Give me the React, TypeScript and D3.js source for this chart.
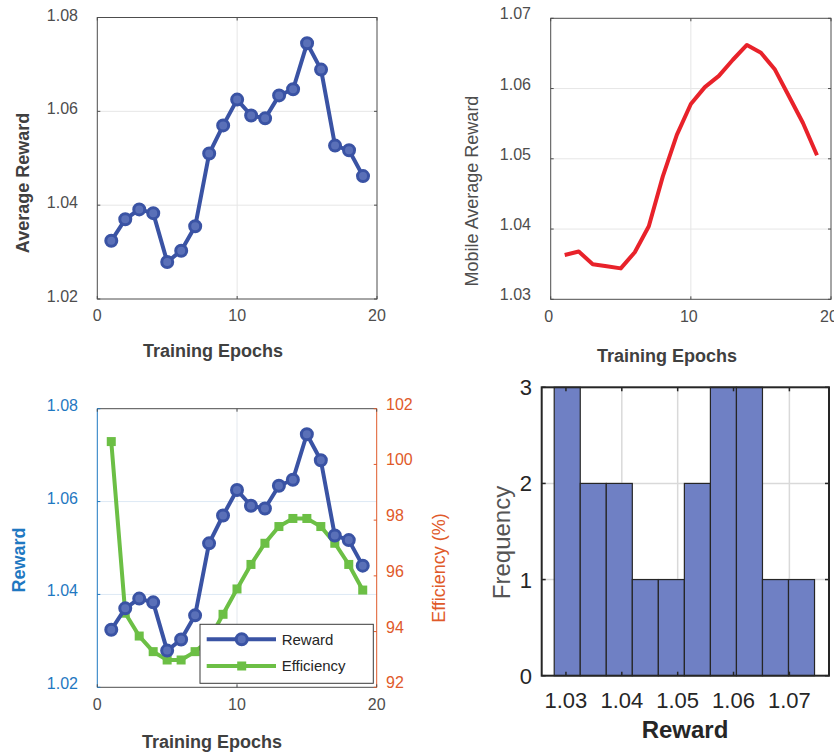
import React from 'react';
import * as d3 from 'd3';

// data
const epochs = [1, 2, 3, 4, 5, 6, 7, 8, 9, 10, 11, 12, 13, 14, 15, 16, 17, 18, 19];
const reward = [1.0324, 1.0370, 1.0391, 1.0383, 1.0279, 1.0303, 1.0355, 1.0510, 1.0570, 1.0625,
    1.0591, 1.0585, 1.0634, 1.0647, 1.0745, 1.0689, 1.0527, 1.0517, 1.0462];
const mobileAvg = [1.0363, 1.0368, 1.0350, 1.0347, 1.0344, 1.0367, 1.0404, 1.0475, 1.0534, 1.0578,
    1.0602, 1.0618, 1.0641, 1.0662, 1.0651, 1.0627, 1.0589, 1.0551, 1.0505];
const efficiency = [100.82, 94.66, 93.84, 93.28, 92.98, 92.98, 93.28, 93.7, 94.62, 95.53,
    96.41, 97.17, 97.77, 98.06, 98.06, 97.77, 97.17, 96.41, 95.49];

const epochTicks = [0, 10, 20];
const rewardTicks = [1.02, 1.04, 1.06, 1.08];
const mobileTicks = [1.03, 1.04, 1.05, 1.06, 1.07];
const effTicks = [92, 94, 96, 98, 100, 102];
const histXTicks = [1.03, 1.04, 1.05, 1.06, 1.07];
const histYTicks = [0, 1, 2, 3];
const histBinCount = 10;

const FONT = '"Liberation Sans", Arial, sans-serif';
const BLUE = '#3a53a4';
const GREEN = '#6cbf45';
const RED = '#e8222a';
const LEFT_AX = '#1f78c1';
const RIGHT_AX = '#df5a2a';
const GRID = '#e6e6e6';
const TXT = '#4d4d4d';

const fmt2 = d3.format('.2f');

function TopLeft() {
    const x = d3.scaleLinear().domain([0, 20]).range([97.3, 377]);
    const y = d3.scaleLinear().domain([1.02, 1.08]).range([299, 17.5]);
    const line = d3.line<number>().x((d, i) => x(epochs[i])).y(d => y(d));
    return (
        <g>
            {epochTicks.slice(1, -1).map(t => <line key={t} x1={x(t)} x2={x(t)} y1={y(1.02)} y2={y(1.08)} stroke={GRID} />)}
            {rewardTicks.slice(1, -1).map(t => <line key={t} x1={x(0)} x2={x(20)} y1={y(t)} y2={y(t)} stroke={GRID} />)}
            {epochTicks.map(t => <g key={t}>
                <line x1={x(t)} x2={x(t)} y1={y(1.02)} y2={y(1.02) - 3} stroke="#4d4d4d" />
                <line x1={x(t)} x2={x(t)} y1={y(1.08)} y2={y(1.08) + 3} stroke="#4d4d4d" />
                <text x={x(t)} y={y(1.02) + 22} textAnchor="middle" fontSize={16} fill={TXT}>{t}</text>
            </g>)}
            {rewardTicks.map(t => <g key={t}>
                <line x1={x(0)} x2={x(0) + 3} y1={y(t)} y2={y(t)} stroke="#4d4d4d" />
                <line x1={x(20)} x2={x(20) - 3} y1={y(t)} y2={y(t)} stroke="#4d4d4d" />
                <text x={78} y={y(t) + 3} textAnchor="end" fontSize={16} fill={TXT}>{fmt2(t)}</text>
            </g>)}
            <rect x={x(0)} y={y(1.08)} width={x(20) - x(0)} height={y(1.02) - y(1.08)} fill="none" stroke="#4d4d4d" />
            <path d={line(reward) || ''} fill="none" stroke={BLUE} strokeWidth={4} strokeLinejoin="round" />
            {reward.map((d, i) => <circle key={i} cx={x(epochs[i])} cy={y(d)} r={5.5} fill="#5a70b8" stroke={BLUE} strokeWidth={3} />)}
            <text x={213} y={356.5} textAnchor="middle" fontSize={18} fontWeight="bold" fill="#404040">Training Epochs</text>
            <text transform="translate(29,183) rotate(-90)" textAnchor="middle" fontSize={18} fontWeight="bold" fill="#404040">Average Reward</text>
        </g>
    );
}

function TopRight() {
    const x = d3.scaleLinear().domain([0, 20]).range([550.7, 831]);
    const y = d3.scaleLinear().domain([1.03, 1.07]).range([299.3, 18.3]);
    const line = d3.line<number>().x((d, i) => x(epochs[i])).y(d => y(d));
    return (
        <g>
            {epochTicks.slice(1, -1).map(t => <line key={t} x1={x(t)} x2={x(t)} y1={y(1.03)} y2={y(1.07)} stroke={GRID} />)}
            {mobileTicks.slice(1, -1).map(t => <line key={t} x1={x(0)} x2={x(20)} y1={y(t)} y2={y(t)} stroke={GRID} />)}
            {epochTicks.map(t => <g key={t}>
                <line x1={x(t)} x2={x(t)} y1={y(1.03)} y2={y(1.03) - 3} stroke="#4d4d4d" />
                <line x1={x(t)} x2={x(t)} y1={y(1.07)} y2={y(1.07) + 3} stroke="#4d4d4d" />
                <text x={x(t) - 2} y={y(1.03) + 23} textAnchor="middle" fontSize={16} fill={TXT}>{t}</text>
            </g>)}
            {mobileTicks.map(t => <g key={t}>
                <line x1={x(0)} x2={x(0) + 3} y1={y(t)} y2={y(t)} stroke="#4d4d4d" />
                <line x1={x(20)} x2={x(20) - 3} y1={y(t)} y2={y(t)} stroke="#4d4d4d" />
                <text x={531} y={y(t) + 1} textAnchor="end" fontSize={16} fill={TXT}>{fmt2(t)}</text>
            </g>)}
            <rect x={x(0)} y={y(1.07)} width={x(20) - x(0)} height={y(1.03) - y(1.07)} fill="none" stroke="#4d4d4d" />
            <path d={line(mobileAvg) || ''} fill="none" stroke={RED} strokeWidth={4} strokeLinejoin="round" />
            <text x={667} y={361.5} textAnchor="middle" fontSize={18} fontWeight="bold" fill="#404040">Training Epochs</text>
            <text transform="translate(478,191) rotate(-90)" textAnchor="middle" fontSize={18} fill={TXT}>Mobile Average Reward</text>
        </g>
    );
}

function BottomLeft() {
    const x = d3.scaleLinear().domain([0, 20]).range([97.3, 376.7]);
    const y = d3.scaleLinear().domain([1.02, 1.08]).range([687.3, 408.7]);
    const y2 = d3.scaleLinear().domain([92, 102]).range([687.3, 408.7]);
    const rLine = d3.line<number>().x((d, i) => x(epochs[i])).y(d => y(d));
    const eLine = d3.line<number>().x((d, i) => x(epochs[i])).y(d => y2(d));
    return (
        <g>
            {epochTicks.slice(1, -1).map(t => <line key={t} x1={x(t)} x2={x(t)} y1={y(1.02)} y2={y(1.08)} stroke="#e3e8ee" />)}
            {rewardTicks.slice(1, -1).map(t => <line key={t} x1={x(0)} x2={x(20)} y1={y(t)} y2={y(t)} stroke="#dde9f5" />)}
            <line x1={x(0)} x2={x(20)} y1={y(1.08)} y2={y(1.08)} stroke="#4d4d4d" />
            <line x1={x(0)} x2={x(20)} y1={y(1.02)} y2={y(1.02)} stroke="#4d4d4d" />
            <line x1={x(0)} x2={x(0)} y1={y(1.02)} y2={y(1.08)} stroke={LEFT_AX} />
            <line x1={x(20)} x2={x(20)} y1={y(1.02)} y2={y(1.08)} stroke={RIGHT_AX} />
            {epochTicks.map(t => <g key={t}>
                <line x1={x(t)} x2={x(t)} y1={y(1.02)} y2={y(1.02) - 3} stroke="#4d4d4d" />
                <line x1={x(t)} x2={x(t)} y1={y(1.08)} y2={y(1.08) + 3} stroke="#4d4d4d" />
                <text x={x(t)} y={y(1.02) + 23} textAnchor="middle" fontSize={16} fill={TXT}>{t}</text>
            </g>)}
            {rewardTicks.map(t => <g key={t}>
                <line x1={x(0)} x2={x(0) + 3} y1={y(t)} y2={y(t)} stroke={LEFT_AX} />
                <text x={78} y={y(t) + 2} textAnchor="end" fontSize={16} fill={LEFT_AX}>{fmt2(t)}</text>
            </g>)}
            {effTicks.map(t => <g key={t}>
                <line x1={x(20)} x2={x(20) - 3} y1={y2(t)} y2={y2(t)} stroke={RIGHT_AX} />
                <text x={386} y={y2(t) + 1} textAnchor="start" fontSize={16} fill={RIGHT_AX}>{t}</text>
            </g>)}
            <path d={eLine(efficiency) || ''} fill="none" stroke={GREEN} strokeWidth={4} />
            {efficiency.map((d, i) => <rect key={i} x={x(epochs[i]) - 4.5} y={y2(d) - 4.5} width={9} height={9} fill={GREEN} />)}
            <path d={rLine(reward) || ''} fill="none" stroke={BLUE} strokeWidth={4} strokeLinejoin="round" />
            {reward.map((d, i) => <circle key={i} cx={x(epochs[i])} cy={y(d)} r={5.5} fill="#5a70b8" stroke={BLUE} strokeWidth={3} />)}
            <g>
                <rect x={200} y={624.3} width={173.3} height={59} fill="#fff" stroke="#3a3a3a" />
                <line x1={206.7} x2={276} y1={639.3} y2={639.3} stroke={BLUE} strokeWidth={4} />
                <circle cx={241.7} cy={639.3} r={5.5} fill="#5a70b8" stroke={BLUE} strokeWidth={3} />
                <text x={281.7} y={644.5} fontSize={15} fill="#262626">Reward</text>
                <line x1={206.7} x2={276} y1={666} y2={666} stroke={GREEN} strokeWidth={4} />
                <rect x={237.2} y={661.5} width={9} height={9} fill={GREEN} />
                <text x={281.7} y={671} fontSize={15} fill="#262626">Efficiency</text>
            </g>
            <text x={212} y={748} textAnchor="middle" fontSize={18} fontWeight="bold" fill="#404040">Training Epochs</text>
            <text transform="translate(24.5,560) rotate(-90)" textAnchor="middle" fontSize={18} fontWeight="bold" fill={LEFT_AX}>Reward</text>
            <text transform="translate(445,568) rotate(-90)" textAnchor="middle" fontSize={18} fill={RIGHT_AX}>Efficiency (%)</text>
        </g>
    );
}

function Histogram() {
    const x = d3.scaleLinear().domain([1.02566, 1.07709]).range([541.7, 829]);
    const y = d3.scaleLinear().domain([0, 3]).range([675.7, 387.3]);
    const [lo, hi] = d3.extent(reward) as [number, number];
    const w = (hi - lo) / histBinCount;
    const thresholds = d3.range(1, histBinCount).map(i => lo + i * w);
    const bins = d3.bin().domain([lo, hi]).thresholds(thresholds)(reward);
    return (
        <g>
            {histXTicks.map(t => <line key={t} x1={x(t)} x2={x(t)} y1={y(0)} y2={y(3)} stroke="#d9d9d9" strokeWidth={1.5} />)}
            {histYTicks.slice(1, -1).map(t => <line key={t} x1={x.range()[0]} x2={x.range()[1]} y1={y(t)} y2={y(t)} stroke="#d9d9d9" strokeWidth={1.5} />)}
            {bins.map((b, i) => <rect key={i} x={x(b.x0 as number)} y={y(b.length)} width={x(b.x1 as number) - x(b.x0 as number)}
                height={y(0) - y(b.length)} fill="#6f80c4" stroke="#262626" strokeWidth={1.2} />)}
            {histXTicks.map(t => <g key={t}>
                <line x1={x(t)} x2={x(t)} y1={y(0)} y2={y(0) - 4} stroke="#262626" strokeWidth={1.5} />
                <line x1={x(t)} x2={x(t)} y1={y(3)} y2={y(3) + 4} stroke="#262626" strokeWidth={1.5} />
                <text x={x(t)} y={y(0) + 32} textAnchor="middle" fontSize={22} fill="#262626">{fmt2(t)}</text>
            </g>)}
            {histYTicks.map(t => <g key={t}>
                <line x1={x.range()[0]} x2={x.range()[0] + 4} y1={y(t)} y2={y(t)} stroke="#262626" strokeWidth={1.5} />
                <line x1={x.range()[1]} x2={x.range()[1] - 4} y1={y(t)} y2={y(t)} stroke="#262626" strokeWidth={1.5} />
                <text x={532} y={y(t) + 8} textAnchor="end" fontSize={22} fill="#262626">{t}</text>
            </g>)}
            <rect x={x.range()[0]} y={y(3)} width={x.range()[1] - x.range()[0]} height={y(0) - y(3)} fill="none" stroke="#262626" strokeWidth={2} />
            <text x={685} y={738} textAnchor="middle" fontSize={24} fontWeight="bold" fill="#262626">Reward</text>
            <text transform="translate(510,542.5) rotate(-90)" textAnchor="middle" fontSize={24} fill="#555">Frequency</text>
        </g>
    );
}

export default function App() {
    return (
        <svg width={834} height={753} style={{ position: 'absolute', left: 0, top: 0, background: '#fff' }} fontFamily={FONT}>
            <TopLeft />
            <TopRight />
            <BottomLeft />
            <Histogram />
        </svg>
    );
}
